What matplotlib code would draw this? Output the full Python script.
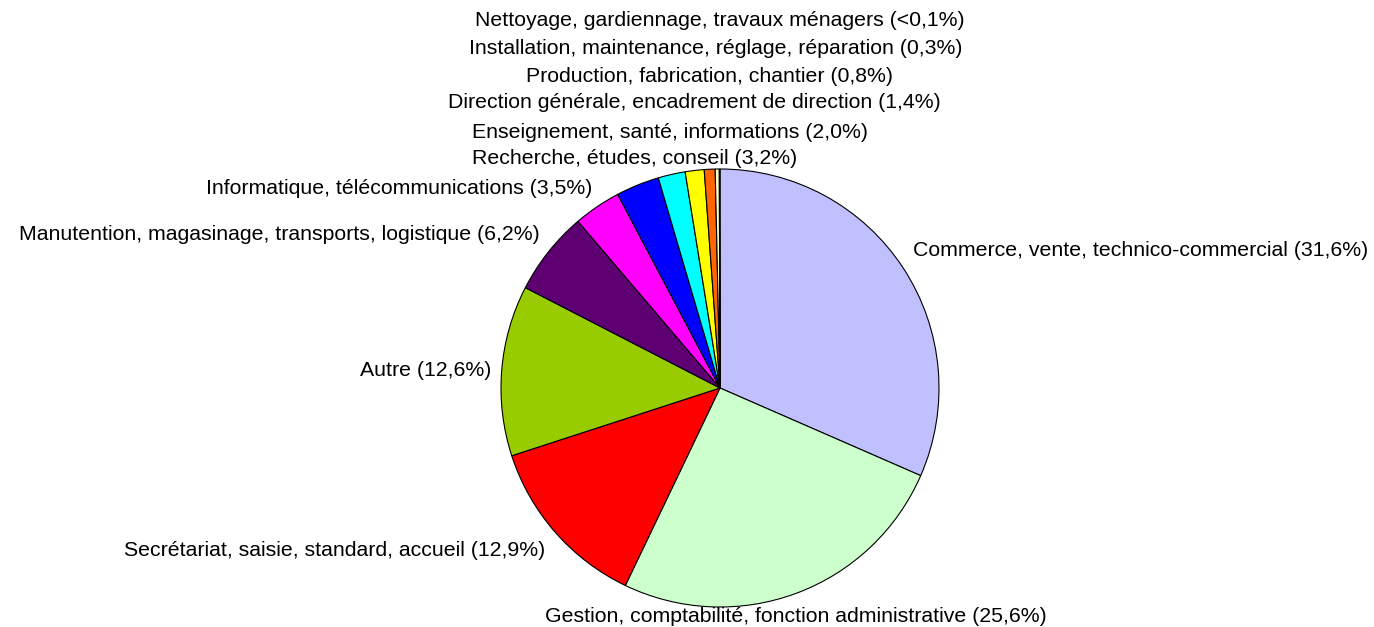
import matplotlib
matplotlib.use("Agg")
from matplotlib import pyplot as plt

plt.rcParams['font.family'] = ['Liberation Sans', 'DejaVu Sans']

# Data, in clockwise order from 12 o'clock
categories = [
    "Commerce, vente, technico-commercial",
    "Gestion, comptabilité, fonction administrative",
    "Secrétariat, saisie, standard, accueil",
    "Autre",
    "Manutention, magasinage, transports, logistique",
    "Informatique, télécommunications",
    "Recherche, études, conseil",
    "Enseignement, santé, informations",
    "Direction générale, encadrement de direction",
    "Production, fabrication, chantier",
    "Installation, maintenance, réglage, réparation",
    "Nettoyage, gardiennage, travaux ménagers",
]
shares = [31.6, 25.6, 12.9, 12.6, 6.2, 3.5, 3.2, 2.0, 1.4, 0.8, 0.3, 0.05]

colors = ["#C0C0FF", "#CCFFCC", "#FF0000", "#99CC00", "#5E0072", "#FF00FF",
          "#0000FF", "#00FFFF", "#FFFF00", "#FF6600", "#FFFFCC", "#000000"]

# label anchors in pixel coordinates (y from the top), with alignment
label_layout = [
    (913, 250, "left"),
    (545, 616, "left"),
    (545, 551, "right"),
    (491, 370, "right"),
    (540, 234, "right"),
    (592, 188, "right"),
    (635, 158, "center"),
    (670, 132, "center"),
    (694, 103, "center"),
    (709, 76, "center"),
    (716, 48, "center"),
    (720, 21, "center"),
]


def fmt_share(v):
    if v < 0.1:
        return "<0,1%"
    return ("%.1f%%" % v).replace(".", ",")


W, H = 1374, 627
fig = plt.figure(figsize=(W / 100, H / 100), dpi=100)
ax = fig.add_axes([0, 0, 1, 1])

# y axis is flipped below, so counterclockwise in data means clockwise on screen
ax.pie(shares, colors=colors, startangle=-90, counterclock=True,
       center=(720, 388), radius=219,
       wedgeprops=dict(edgecolor="black", linewidth=0.8))

for name, v, (x, y, ha) in zip(categories, shares, label_layout):
    ax.text(x, y, "%s (%s)" % (name, fmt_share(v)), ha=ha, va="center",
            fontsize=15.3, color="black")

ax.set_xlim(0, W)
ax.set_ylim(H, 0)
ax.set_aspect("equal")
ax.axis("off")

fig.savefig("out.png", dpi=100, facecolor="white")
